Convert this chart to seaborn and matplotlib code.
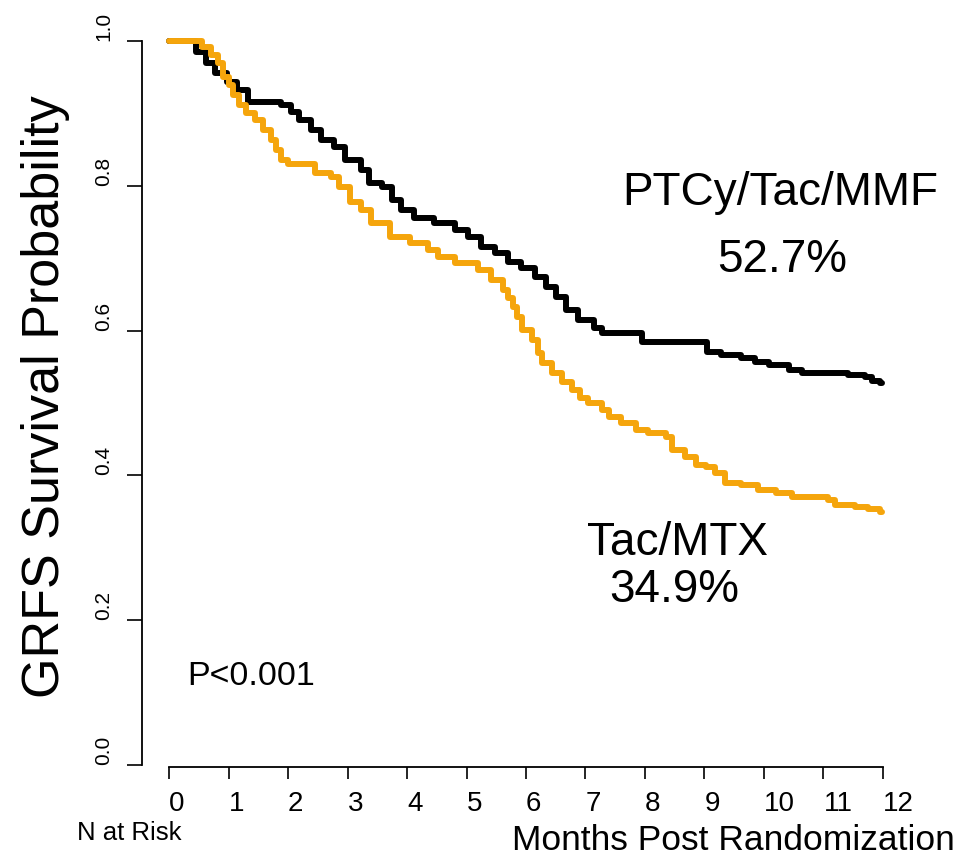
import matplotlib
matplotlib.use("Agg")
import matplotlib.pyplot as plt
import seaborn as sns

# ---------------- data ----------------
months = list(range(0, 13))
yticks = [0.0, 0.2, 0.4, 0.6, 0.8, 1.0]

ptcy_time = [0.00, 0.45, 0.62, 0.78, 0.98, 1.15, 1.32, 1.88, 2.05, 2.18, 2.38, 2.56,
             2.78, 2.96, 3.22, 3.36, 3.58, 3.74, 3.90, 4.12, 4.45, 4.80, 5.02, 5.25,
             5.48, 5.70, 5.92, 6.15, 6.33, 6.50, 6.67, 6.88, 7.15, 7.27, 7.95, 9.05,
             9.28, 9.62, 9.85, 10.08, 10.42, 10.64, 11.42, 11.70, 11.82, 11.95, 11.98]
ptcy_surv = [1.000, 0.985, 0.970, 0.956, 0.943, 0.932, 0.916, 0.912, 0.902, 0.891, 0.877, 0.863,
             0.854, 0.836, 0.822, 0.804, 0.798, 0.780, 0.767, 0.756, 0.749, 0.739, 0.729, 0.715,
             0.707, 0.695, 0.686, 0.674, 0.660, 0.646, 0.628, 0.615, 0.604, 0.597, 0.584, 0.570,
             0.566, 0.562, 0.557, 0.552, 0.546, 0.541, 0.539, 0.536, 0.530, 0.527, 0.527]

mtx_time = [0.00, 0.55, 0.70, 0.82, 0.90, 1.00, 1.08, 1.17, 1.30, 1.45, 1.58, 1.72,
            1.80, 1.88, 2.00, 2.45, 2.72, 2.85, 3.05, 3.22, 3.40, 3.72, 4.05, 4.35,
            4.52, 4.80, 5.20, 5.42, 5.62, 5.70, 5.78, 5.85, 5.93, 6.10, 6.20, 6.27,
            6.43, 6.60, 6.77, 6.90, 7.05, 7.27, 7.40, 7.60, 7.85, 8.05, 8.35, 8.45,
            8.68, 8.85, 9.02, 9.18, 9.35, 9.62, 9.90, 10.20, 10.47, 11.08, 11.20, 11.53,
            11.75, 11.95, 11.98]
mtx_surv = [1.000, 0.992, 0.981, 0.970, 0.950, 0.939, 0.925, 0.912, 0.901, 0.891, 0.877, 0.863,
            0.849, 0.836, 0.830, 0.818, 0.812, 0.798, 0.778, 0.767, 0.749, 0.729, 0.721, 0.711,
            0.702, 0.693, 0.684, 0.670, 0.656, 0.645, 0.632, 0.619, 0.601, 0.587, 0.569, 0.555,
            0.541, 0.529, 0.518, 0.507, 0.500, 0.490, 0.481, 0.472, 0.463, 0.459, 0.453, 0.435,
            0.425, 0.414, 0.412, 0.403, 0.390, 0.387, 0.380, 0.376, 0.370, 0.366, 0.359, 0.356,
            0.353, 0.349, 0.349]

arm_labels = ["PTCy/Tac/MMF", "Tac/MTX"]
arm_pct = ["52.7%", "34.9%"]
p_text = "P<0.001"

# ---------------- style ----------------
sns.set_style("white")
plt.rcParams["font.family"] = ["Liberation Sans", "DejaVu Sans"]
plt.rcParams["text.color"] = "black"
plt.rcParams["xtick.color"] = "black"
plt.rcParams["ytick.color"] = "black"

W, H = 971, 857
fig = plt.figure(figsize=(W / 100, H / 100), dpi=100)
ax = fig.add_axes([142 / W, 1 - 767 / H, (900 - 142) / W, (767 - 30) / H])

ax.set_xlim(-0.454, 12.286)
ax.set_ylim(-0.0028, 1.0152)

sns.lineplot(x=ptcy_time, y=ptcy_surv, ax=ax, estimator=None, sort=False,
             drawstyle="steps-post", color="black", linewidth=4.3, clip_on=False)
sns.lineplot(x=mtx_time, y=mtx_surv, ax=ax, estimator=None, sort=False,
             drawstyle="steps-post", color="#F5A50C", linewidth=4.3, clip_on=False)

# R-style detached axes
for s in ["top", "right"]:
    ax.spines[s].set_visible(False)
ax.spines["left"].set_bounds(0, 1)
ax.spines["bottom"].set_bounds(0, 12)
for s in ["left", "bottom"]:
    ax.spines[s].set_linewidth(1.3)
    ax.spines[s].set_color("black")

ax.set_xticks(months)
ax.set_xticklabels([str(m) for m in months], fontsize=20, ha="left")
ax.tick_params(axis="x", bottom=True, length=8.6, width=1.2, pad=9, colors="black")

ax.set_yticks(yticks)
ax.set_yticklabels([f"{v:.1f}" for v in yticks], fontsize=15, rotation=90,
                   va="bottom")
ax.tick_params(axis="y", left=True, length=10.8, width=1.2, pad=10, colors="black")
ax.set_xlabel("")
ax.set_ylabel("")

# annotations
ax.text(10.27, 0.774, arm_labels[0], fontsize=33, ha="center", va="baseline")
ax.text(10.30, 0.681, arm_pct[0], fontsize=33, ha="center", va="baseline")
ax.text(8.54, 0.290, arm_labels[1], fontsize=33, ha="center", va="baseline")
ax.text(8.49, 0.225, arm_pct[1], fontsize=33, ha="center", va="baseline")
ax.text(0.30, 0.1106, p_text, fontsize=24.5, ha="left", va="baseline")

fig.text(46 / W, 1 - 397 / H, "GRFS Survival Probability", fontsize=37.5,
         rotation=90, ha="center", va="center")
fig.text(77 / W, 1 - 840 / H, "N at Risk", fontsize=18.5, ha="left", va="baseline")
fig.text(512 / W, 1 - 850 / H, "Months Post Randomization", fontsize=25.5,
         ha="left", va="baseline")

fig.savefig("out.png", dpi=100, facecolor="white")
